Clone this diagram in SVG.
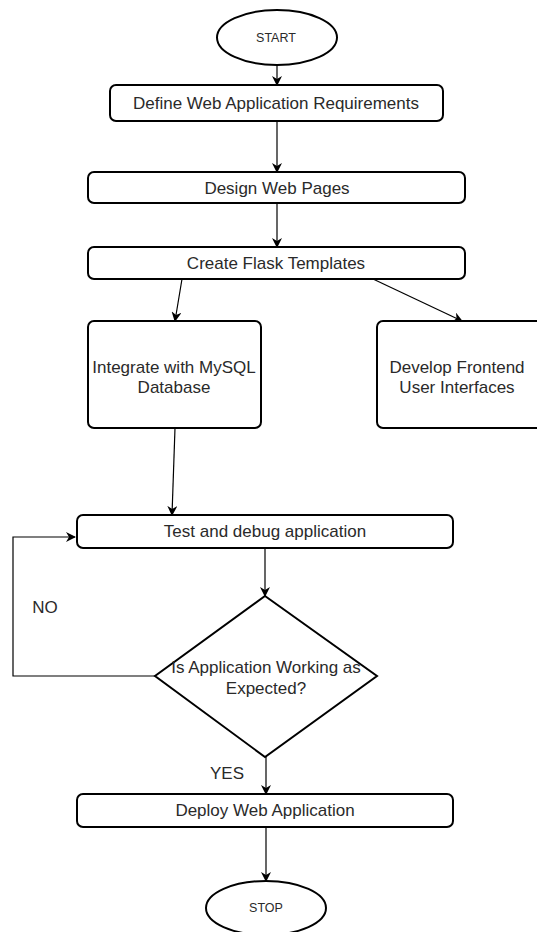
<svg xmlns="http://www.w3.org/2000/svg" width="537" height="932" viewBox="0 0 537 932">
<defs>
<marker id="arr" markerWidth="10" markerHeight="10" refX="9" refY="5" orient="auto" markerUnits="userSpaceOnUse">
<path d="M0,0 L10,5 L0,10 L3,5 Z" fill="#000"/>
</marker>
<style>
.box{fill:#fff;stroke:#000;stroke-width:2}
.t{font-family:"Liberation Sans",Arial,sans-serif;font-size:17px;fill:#2a2a2a;text-anchor:middle}
.s{font-family:"Liberation Sans",Arial,sans-serif;font-size:12.5px;fill:#2a2a2a;text-anchor:middle}
.c{fill:none;stroke:#000;stroke-width:1.2;marker-end:url(#arr)}
</style>
</defs>
<rect width="537" height="932" fill="#fff"/>
<g id="connectors">
<line class="c" x1="277" y1="65" x2="277" y2="85"/>
<line class="c" x1="277" y1="121" x2="277" y2="172"/>
<line class="c" x1="277" y1="203" x2="277" y2="247"/>
<line class="c" x1="182" y1="279" x2="175" y2="321"/>
<line class="c" x1="373" y1="279" x2="462" y2="321"/>
<line class="c" x1="175" y1="428" x2="172" y2="515"/>
<line class="c" x1="265" y1="548" x2="265" y2="596"/>
<polyline class="c" points="155,676 13,676 13,537 75,537"/>
<line class="c" x1="266" y1="757" x2="266" y2="794"/>
<line class="c" x1="266" y1="827" x2="266" y2="881"/>
<text class="t" x="45" y="613">NO</text>
<text class="t" x="227" y="779">YES</text>
</g>
<g id="start">
<ellipse class="box" cx="277" cy="37.5" rx="60" ry="27.5"/>
<text class="s" x="276" y="42">START</text>
</g>
<g id="define">
<rect class="box" x="110" y="85" width="333" height="36" rx="6"/>
<text class="t" x="276" y="109">Define Web Application Requirements</text>
</g>
<g id="design">
<rect class="box" x="88" y="172" width="377" height="31" rx="6"/>
<text class="t" x="277" y="194">Design Web Pages</text>
</g>
<g id="flask">
<rect class="box" x="88" y="247" width="377" height="32" rx="6"/>
<text class="t" x="276" y="269">Create Flask Templates</text>
</g>
<g id="mysql">
<rect class="box" x="88" y="321" width="173" height="107" rx="6"/>
<text class="t" x="174" y="373">Integrate with MySQL</text>
<text class="t" x="174" y="393">Database</text>
</g>
<g id="frontend">
<rect class="box" x="377" y="321" width="170" height="107" rx="6"/>
<text class="t" x="457" y="373">Develop Frontend</text>
<text class="t" x="457" y="393">User Interfaces</text>
</g>
<g id="test">
<rect class="box" x="77" y="515" width="376" height="33" rx="6"/>
<text class="t" x="265" y="537">Test and debug application</text>
</g>
<g id="decision">
<polygon class="box" points="265,596 377,676 265,757 155,676"/>
<text class="t" x="266" y="673">Is Application Working as</text>
<text class="t" x="266" y="694">Expected?</text>
</g>
<g id="deploy">
<rect class="box" x="77" y="794" width="376" height="33" rx="6"/>
<text class="t" x="265" y="816">Deploy Web Application</text>
</g>
<g id="stop">
<ellipse class="box" cx="266" cy="908" rx="60" ry="27"/>
<text class="s" x="266" y="912">STOP</text>
</g>
</svg>
